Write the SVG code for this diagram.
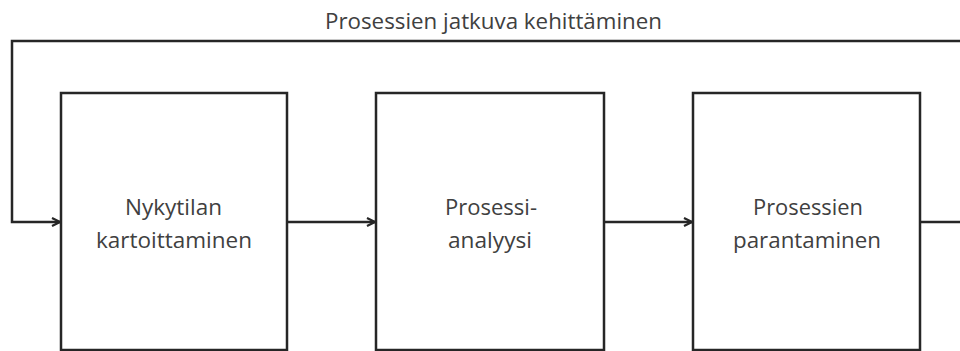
<svg xmlns="http://www.w3.org/2000/svg" width="960" height="351" viewBox="0 0 960 351">
<style>
.box{fill:#ffffff;stroke:#262626;stroke-width:2.5}
.ln{fill:none;stroke:#262626;stroke-width:2.5}
.t{font-family:"Open Sans","Liberation Sans",sans-serif;font-size:22px;fill:#404040;text-anchor:middle}
</style>
<defs>
<marker id="arr" viewBox="0 0 10 10" refX="9" refY="5" markerWidth="10" markerHeight="10" markerUnits="userSpaceOnUse" orient="auto">
<path d="M1,1 L9,5 L1,9" fill="none" stroke="#262626" stroke-width="2.2"/>
</marker>
</defs>
<rect width="960" height="351" fill="#ffffff"/>
<g id="connectors">
<path class="ln" d="M287,222 H375" marker-end="url(#arr)"/>
<path class="ln" d="M604,222 H692" marker-end="url(#arr)"/>
<path class="ln" d="M920,222 H964 V41 H12 V222 H60" marker-end="url(#arr)"/>
<text class="t" x="493.5" y="29" textLength="337" lengthAdjust="spacingAndGlyphs">Prosessien jatkuva kehittäminen</text>
</g>
<g id="node1">
<rect class="box" x="61" y="93" width="226" height="257"/>
<text class="t" x="173.5" y="215" textLength="97" lengthAdjust="spacingAndGlyphs">Nykytilan</text>
<text class="t" x="174" y="248" textLength="156" lengthAdjust="spacingAndGlyphs">kartoittaminen</text>
</g>
<g id="node2">
<rect class="box" x="376" y="93" width="228" height="257"/>
<text class="t" x="491" y="215" textLength="92" lengthAdjust="spacingAndGlyphs">Prosessi-</text>
<text class="t" x="490" y="248" textLength="84" lengthAdjust="spacingAndGlyphs">analyysi</text>
</g>
<g id="node3">
<rect class="box" x="693" y="93" width="227" height="257"/>
<text class="t" x="808" y="215" textLength="110" lengthAdjust="spacingAndGlyphs">Prosessien</text>
<text class="t" x="807" y="248" textLength="148" lengthAdjust="spacingAndGlyphs">parantaminen</text>
</g>
</svg>
